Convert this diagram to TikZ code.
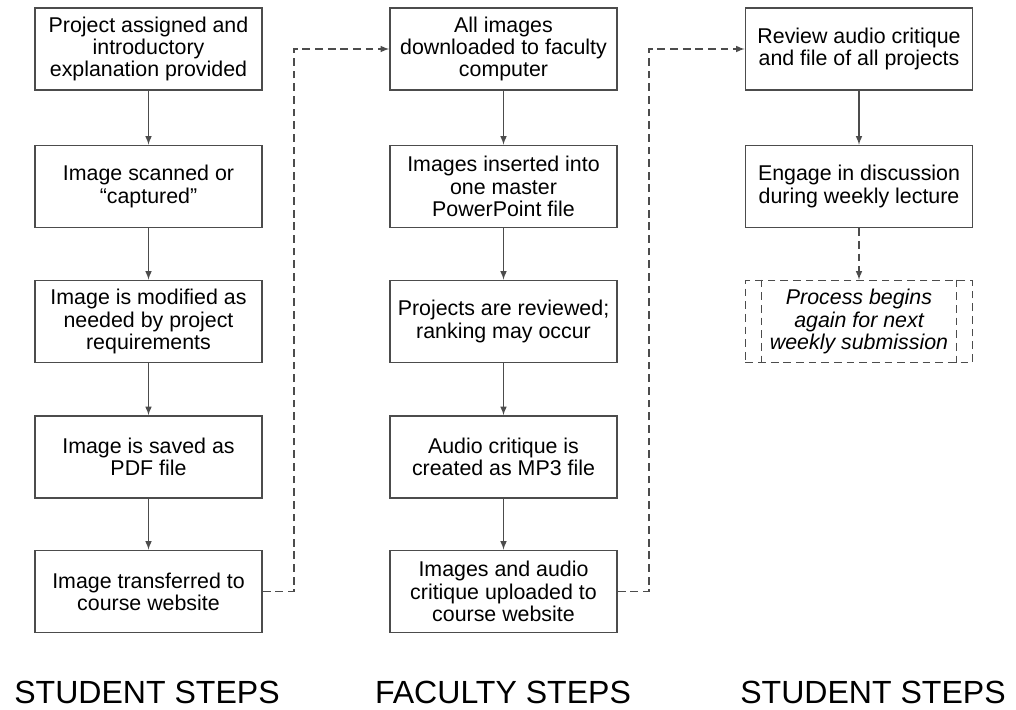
\documentclass[tikz,border=0pt]{standalone}
\usepackage{fontspec}
\setmainfont{Liberation Sans}
\usetikzlibrary{arrows}
\definecolor{boxgray}{rgb}{0.3,0.3,0.3}
\tikzset{
  stepbox/.style={draw=boxgray,line width=1.1pt,minimum width=5.675cm,minimum height=2.05cm,
    align=center,inner sep=2pt,font=\fontsize{15.2}{15.8}\selectfont},
  flow/.style={draw=boxgray,line width=1.1pt,-latex},
  handoff/.style={draw=boxgray,line width=1.1pt,dash pattern=on 5.5pt off 3.5pt},
  colhead/.style={font=\fontsize{22.8}{24}\selectfont}
}
\begin{document}
\begin{tikzpicture}[x=0.025cm,y=-0.025cm]
\useasboundingbox (0,0) rectangle (1016,709);
% student steps
\node[stepbox] (stud1) at (148.5,49) {Project assigned and\\introductory\\explanation provided};
\node[stepbox] (stud2) at (148.5,186.5) {Image scanned or\\``captured''};
\node[stepbox] (stud3) at (148.5,321.5) {Image is modified as\\needed by project\\requirements};
\node[stepbox] (stud4) at (148.5,457) {Image is saved as\\PDF file};
\node[stepbox] (stud5) at (148.5,591.5) {Image transferred to\\course website};
% faculty steps
\node[stepbox] (fac1) at (503.5,49) {All images\\downloaded to faculty\\computer};
\node[stepbox] (fac2) at (503.5,186.5) {Images inserted into\\one master\\PowerPoint file};
\node[stepbox] (fac3) at (503.5,321.5) {Projects are reviewed;\\ranking may occur};
\node[stepbox] (fac4) at (503.5,457) {Audio critique is\\created as MP3 file};
\node[stepbox] (fac5) at (503.5,591.5) {Images and audio\\critique uploaded to\\course website};
% student steps again
\node[stepbox] (rev1) at (859,49) {Review audio critique\\and file of all projects};
\node[stepbox] (rev2) at (859,186.5) {Engage in discussion\\during weekly lecture};
\node[stepbox,handoff,font=\fontsize{15.2}{15.8}\selectfont\itshape] (again) at (859,321.5)
  {Process begins\\again for next\\weekly submission};
\draw[handoff] ([xshift=17*0.025cm]again.north west) -- ([xshift=17*0.025cm]again.south west);
\draw[handoff] ([xshift=-17*0.025cm]again.north east) -- ([xshift=-17*0.025cm]again.south east);

\foreach \a/\b in {stud1/stud2,stud2/stud3,stud3/stud4,stud4/stud5,
                   fac1/fac2,fac2/fac3,fac3/fac4,fac4/fac5,rev1/rev2} {
  \draw[flow] (\a) -- (\b);
}
\draw[handoff,-latex] (rev2) -- (again);
\draw[handoff,-latex] (stud5.east) -- ++(31,0) |- (fac1.west);
\draw[handoff,-latex] (fac5.east) -- ++(31,0) |- (rev1.west);

\node[colhead] (headA) at (147,692) {STUDENT STEPS};
\node[colhead] (headB) at (503,692) {FACULTY STEPS};
\node[colhead] (headC) at (873,692) {STUDENT STEPS};
\end{tikzpicture}
\end{document}
